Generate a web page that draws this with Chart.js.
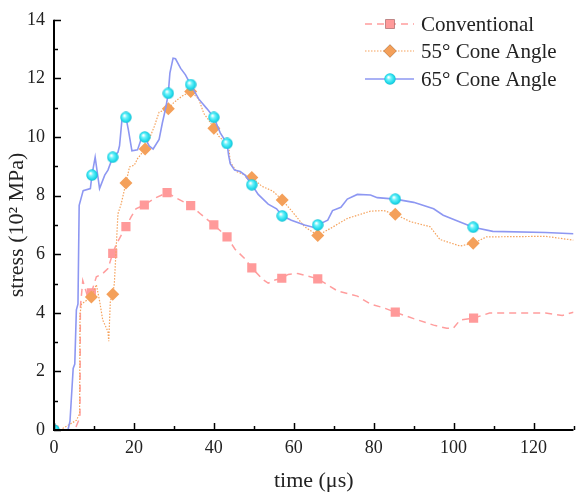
<!DOCTYPE html>
<html>
<head>
<meta charset="utf-8">
<script src="https://cdn.jsdelivr.net/npm/chart.js@4"></script>
<style>
  html, body { margin: 0; padding: 0; background: #fff; }
  #wrap { width: 580px; height: 495px; }
</style>
</head>
<body>
<div id="wrap"><canvas id="stressChart"></canvas></div>
<script>
// Conventional (pink dashed, squares)
const convX = [0, 5.2, 6.5, 6.6, 7.2, 8.3, 9.35, 10.6, 12.2, 13.5, 14.7, 15.6, 18, 19.3, 20.5, 22.6, 25.5, 28.3, 30.4, 34.2, 36.6, 40, 43.3, 45.3, 47.8, 49.5, 52.4, 53.6, 55.3, 57, 58.6, 61, 66, 71, 75.9, 79.2, 82.5, 85.4, 90, 95, 98.3, 99.9, 101.6, 105, 109, 123, 127.2, 130];
const convY = [0, 0, 0.44, 4.2, 5.1, 4.6, 4.68, 5.23, 5.34, 5.51, 6.03, 6.34, 6.94, 7.27, 7.55, 7.68, 7.93, 8.1, 7.93, 7.66, 7.38, 7.0, 6.59, 6.17, 5.84, 5.53, 5.12, 5.01, 5.12, 5.18, 5.31, 5.34, 5.16, 4.74, 4.57, 4.3, 4.17, 4.02, 3.8, 3.58, 3.47, 3.47, 3.75, 3.82, 3.99, 3.99, 3.91, 4.02];
const convMarks = [0, 9.35, 14.7, 18, 22.6, 28.3, 34.2, 40, 43.3, 49.5, 57, 66, 85.4, 105];

// 55° cone angle (orange dotted, diamonds)
const c55X = [0, 1.5, 5.6, 6.4, 6.5, 6.9, 9.35, 10.6, 11.4, 12.2, 13.5, 13.7, 14.1, 14.7, 15.1, 16, 16.8, 18, 18.9, 20.1, 20.9, 22.8, 23.8, 25.1, 26.3, 28.6, 30, 32.1, 34.2, 36.2, 37.5, 38.7, 40, 41.2, 43.7, 44.1, 45.7, 47.8, 49.5, 52, 54.8, 57.1, 59.4, 62.7, 66, 69.3, 73.4, 79.2, 82.5, 85.4, 89.2, 94.1, 96.6, 101.6, 104.9, 108.2, 123, 130];
const c55Y = [0, 0, 0.33, 0.55, 3.97, 4.3, 4.54, 4.96, 4.41, 3.75, 3.36, 3.03, 4.4, 4.63, 5.0, 7.38, 7.71, 8.43, 8.98, 9.04, 9.26, 9.59, 9.92, 10.36, 10.85, 10.96, 11.18, 11.4, 11.55, 11.3, 10.8, 10.58, 10.3, 10.03, 9.7, 9.15, 8.82, 8.7, 8.62, 8.32, 8.15, 7.85, 7.49, 6.94, 6.64, 6.89, 7.22, 7.47, 7.49, 7.36, 7.11, 6.94, 6.5, 6.28, 6.37, 6.59, 6.61, 6.48];
const c55Marks = [0, 9.35, 14.7, 18, 22.8, 28.6, 34.2, 40, 49.5, 57.1, 66, 85.4, 104.9];

// 65° cone angle (blue solid, cyan spheres)
const c65X = [0, 3.5, 4, 4.8, 5.2, 5.6, 6, 6.3, 7.3, 9.1, 9.5, 10.3, 11.4, 12.7, 13.5, 14.7, 16, 16.4, 17, 18, 18.6, 19.5, 20.9, 21.8, 22.7, 23.8, 24.8, 26.3, 27.1, 28, 28.6, 29, 29.8, 30.4, 31.7, 32.9, 34.2, 36.2, 38.3, 40, 41.6, 43.3, 43.7, 44.1, 45.2, 46.6, 47.8, 49.5, 51.1, 53.6, 55.7, 57.1, 59.4, 62.7, 64.8, 66, 68.5, 69.7, 71.8, 73.4, 75.9, 79.2, 80.9, 85.4, 90, 95, 97.4, 101.6, 104.9, 109.8, 123, 130];
const c65Y = [0, 0, 0.3, 2.1, 2.25, 4.1, 4.3, 7.67, 8.17, 8.24, 8.7, 9.31, 8.24, 8.7, 8.87, 9.31, 9.48, 9.7, 10.58, 10.67, 10.25, 9.53, 9.56, 9.92, 10.0, 9.7, 9.59, 9.92, 10.47, 11.02, 11.49, 12.18, 12.69, 12.67, 12.34, 12.12, 11.79, 11.3, 10.96, 10.67, 10.14, 9.78, 9.37, 9.09, 8.87, 8.82, 8.7, 8.37, 8.04, 7.71, 7.55, 7.31, 7.16, 7.0, 6.92, 7.0, 7.16, 7.49, 7.6, 7.88, 8.04, 8.02, 7.93, 7.88, 7.77, 7.55, 7.33, 7.1, 6.92, 6.78, 6.74, 6.7];
const c65Marks = [0, 9.5, 14.7, 18, 22.7, 28.6, 34.2, 40, 43.3, 49.5, 57.1, 66, 85.4, 104.9];

const seriesNames = ['Conventional', '55° Cone Angle', '65° Cone Angle'];
const xTicks = [0, 20, 40, 60, 80, 100, 120];
const yTicks = [0, 2, 4, 6, 8, 10, 12, 14];

const serif = "'Liberation Serif', 'Times New Roman', serif";

// shaded cyan ball used as the 65° marker
function makeSphere(d) {
    const c = document.createElement('canvas');
    c.width = d; c.height = d;
    const g = c.getContext('2d');
    const r = d / 2;
    const grad = g.createRadialGradient(r * 0.75, r * 0.7, 0.5, r, r, r);
    grad.addColorStop(0, '#ffffff');
    grad.addColorStop(0.3, '#6ff3fb');
    grad.addColorStop(0.75, '#1fd9ea');
    grad.addColorStop(1, '#13b9cc');
    g.fillStyle = grad;
    g.beginPath();
    g.arc(r, r, r - 0.3, 0, Math.PI * 2);
    g.fill();
    return c;
}
const sphere = makeSphere(12);

function toPoints(xs, ys) {
    return xs.map((x, i) => ({ x: x, y: ys[i] }));
}

function markerRadius(marks, r) {
    return ctx => marks.includes(ctx.raw.x) ? r : 0;
}

// axis lines + inward ticks, like the original plot
const axisPlugin = {
    id: 'axisPlugin',
    afterDatasetsDraw(chart) {
        const { ctx, chartArea: a, scales } = chart;
        ctx.save();
        ctx.strokeStyle = '#000';
        ctx.lineWidth = 2;
        ctx.beginPath();
        ctx.moveTo(a.left, a.top);
        ctx.lineTo(a.left, a.bottom);
        ctx.lineTo(a.right, a.bottom);
        ctx.stroke();
        ctx.lineWidth = 1.5;
        for (let v = 0; v <= 130; v += 10) {
            const px = Math.round(scales.x.getPixelForValue(v)) + 0.5;
            const len = v % 20 === 0 ? 7 : 4;
            ctx.beginPath();
            ctx.moveTo(px, a.bottom);
            ctx.lineTo(px, a.bottom - len);
            ctx.stroke();
        }
        for (let v = 0; v <= 14; v += 1) {
            const py = Math.round(scales.y.getPixelForValue(v)) + 0.5;
            const len = v % 2 === 0 ? 7 : 4;
            ctx.beginPath();
            ctx.moveTo(a.left, py);
            ctx.lineTo(a.left + len, py);
            ctx.stroke();
        }
        ctx.restore();
    }
};

// Origin style legend: line sample with the marker in the middle
const legendPlugin = {
    id: 'legendPlugin',
    afterDraw(chart) {
        const ctx = chart.ctx;
        const rows = [24, 51, 79];
        ctx.save();
        chart.data.datasets.forEach((ds, i) => {
            const y = rows[i];
            ctx.strokeStyle = ds.borderColor;
            ctx.lineWidth = ds.borderWidth;
            ctx.setLineDash(ds.borderDash || []);
            ctx.beginPath();
            ctx.moveTo(365, y);
            ctx.lineTo(414, y);
            ctx.stroke();
            ctx.setLineDash([]);
            const style = ds.legendMarker;
            if (style === 'sphere') {
                ctx.drawImage(sphere, 390 - 6, y - 6);
            } else {
                Chart.helpers.drawPoint(ctx, {
                    pointStyle: style,
                    radius: ds.legendRadius,
                    borderWidth: 0
                }, 390, y);
                ctx.fillStyle = ds.pointBackgroundColor;
                ctx.fill();
            }
            ctx.fillStyle = '#222';
            ctx.font = '21px ' + serif;
            ctx.textBaseline = 'middle';
            ctx.fillText(seriesNames[i], 421, y + 1);
        });
        ctx.restore();
    }
};

const chartData = {
    datasets: [
        {
            label: seriesNames[0],
            data: toPoints(convX, convY),
            borderColor: '#ff9d9d',
            borderWidth: 1.5,
            borderDash: [7, 5],
            pointStyle: 'rect',
            pointRadius: markerRadius(convMarks, 6.5),
            pointBackgroundColor: '#ff9a9a',
            pointBorderWidth: 0,
            legendMarker: 'rect',
            legendRadius: 6.5,
            order: 3
        },
        {
            label: seriesNames[1],
            data: toPoints(c55X, c55Y),
            borderColor: '#f5a25c',
            borderWidth: 1.2,
            borderDash: [1.5, 1.5],
            pointStyle: 'rectRot',
            pointRadius: markerRadius(c55Marks, 6.5),
            pointBackgroundColor: '#f4a05a',
            pointBorderWidth: 0,
            legendMarker: 'rectRot',
            legendRadius: 6.5,
            order: 2
        },
        {
            label: seriesNames[2],
            data: toPoints(c65X, c65Y),
            borderColor: '#8d97f2',
            borderWidth: 1.6,
            pointStyle: sphere,
            pointRadius: markerRadius(c65Marks, 6),
            pointBackgroundColor: '#22dded',
            pointBorderWidth: 0,
            legendMarker: 'sphere',
            order: 1
        }
    ]
};

new Chart(document.getElementById('stressChart'), {
    type: 'line',
    data: chartData,
    options: {
        responsive: true,
        maintainAspectRatio: false,
        animation: false,
        events: [],
        layout: { padding: { top: 6, right: 2, left: 0, bottom: 0 } },
        elements: { line: { tension: 0 } },
        plugins: {
            legend: { display: false },
            tooltip: { enabled: false }
        },
        scales: {
            x: {
                type: 'linear',
                min: 0,
                max: 130,
                afterBuildTicks: s => { s.ticks = xTicks.map(v => ({ value: v })); },
                afterFit: s => { s.height = 65; },
                grid: { display: false, drawTicks: false },
                border: { display: false },
                ticks: {
                    padding: 7,
                    color: '#222',
                    font: { family: serif, size: 18 }
                },
                title: {
                    display: true,
                    text: 'time (μs)',
                    color: '#222',
                    font: { family: serif, size: 22 },
                    padding: { top: 0, bottom: 1 }
                }
            },
            y: {
                type: 'linear',
                min: 0,
                max: 14,
                afterBuildTicks: s => { s.ticks = yTicks.map(v => ({ value: v })); },
                afterFit: s => { s.width = 54; },
                grid: { display: false, drawTicks: false },
                border: { display: false },
                ticks: {
                    padding: 9,
                    color: '#222',
                    font: { family: serif, size: 18 }
                },
                title: {
                    display: true,
                    text: 'stress (10² MPa)',
                    color: '#222',
                    font: { family: serif, size: 22 },
                    padding: { top: 4, bottom: 4 }
                }
            }
        }
    },
    plugins: [axisPlugin, legendPlugin]
});
</script>
</body>
</html>
